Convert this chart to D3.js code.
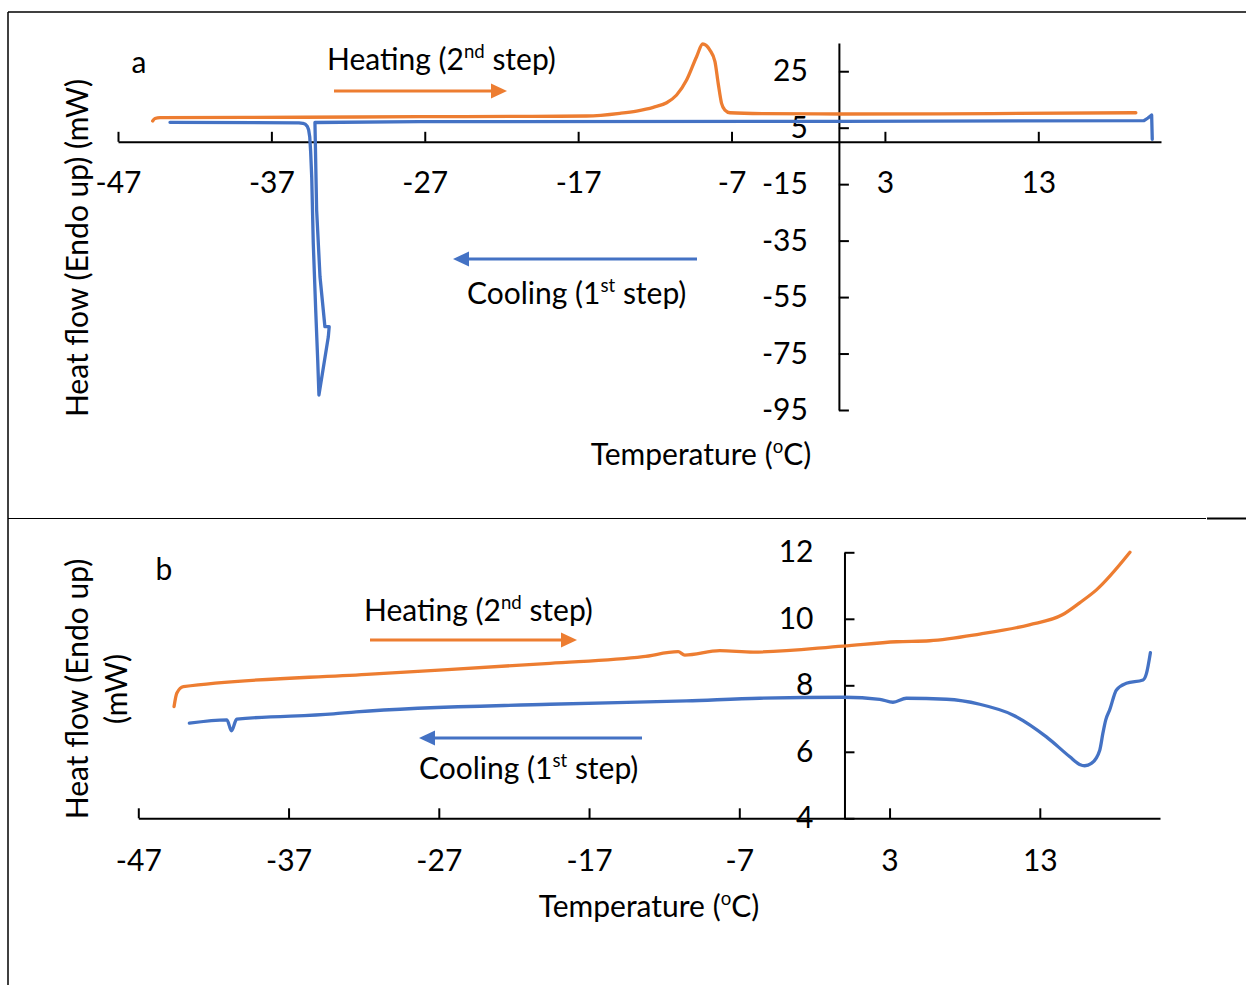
<!DOCTYPE html>
<html>
<head>
<meta charset="utf-8">
<script src="https://cdn.jsdelivr.net/npm/d3@7"></script>
<style>
  body { margin: 0; background: #fff; }
  text { font-family: Lato, "Open Sans", sans-serif; fill: #000; }
</style>
</head>
<body>
<script>
// temperatures (degC) and heat flow (mW)
const xTicks = [-47, -37, -27, -17, -7, 3, 13]
const yTicksA = [-95, -75, -55, -35, -15, 5, 25]
const yTicksB = [4, 6, 8, 10, 12]

// panel a, heating (2nd step)
const heatA_T = [-44.74, -44.59, -44.26, -35, -27.31, -20, -16.45, -14.28, -13.19, -12.10, -11.23, -10.58, -9.93, -9.28, -8.88, -8.41, -8.08, -7.87, -7.65, -7.43, -7.1, -5, 0.07, 10, 19.36]
const heatA_mW = [7.37, 8.25, 8.54, 8.7, 8.89, 9.0, 9.14, 10.1, 10.91, 12.22, 13.85, 16.58, 21.89, 30.15, 34.64, 32.5, 28.4, 20.7, 13.6, 11.26, 10.3, 10.0, 9.85, 10.0, 10.3]

// panel a, cooling (1st step), in recording order
const coolA_T = [20.43, 20.39, 20.15, 19.89, 0.07, -27.31, -34.16, -34.05, -33.83, -33.51, -33.23, -33.29, -33.90, -33.98, -34.11, -34.27, -34.37, -34.44, -34.5, -34.57, -34.66, -34.78, -34.95, -35.2, -43.61]
const coolA_mW = [0.89, 9.49, 8.43, 7.47, 7.26, 7.12, 6.84, -24.16, -47.79, -65.5, -65.5, -69.15, -89.7, -77.3, -59.6, -35.8, -12.5, -3.5, 1.8, 4.2, 5.5, 6.2, 6.55, 6.7, 6.91]

// panel b, heating (2nd step)
const heatB_T = [-44.62, -44.44, -44.0, -31.8, -19.6, -13.4, -11.07, -10.63, -8.3, -6.08, -0.09, 3.46, 5.67, 9.0, 12.3, 14.5, 15.65, 16.77, 19.0]
const heatB_mW = [7.36, 7.76, 7.96, 8.33, 8.66, 8.86, 9.01, 8.91, 9.04, 9.0, 9.18, 9.31, 9.34, 9.54, 9.82, 10.12, 10.48, 10.87, 12.0]

// panel b, cooling (1st step)
const coolB_T = [-43.6, -41.1, -40.8, -40.45, -34.0, -32.5, -19.6, -10.51, -5.64, 0, 2.35, 3.23, 4.12, 6.8, 9.0, 11.2, 13.44, 15.0, 15.65, 15.99, 16.43, 16.99, 17.2, 17.39, 17.65, 18.1, 18.76, 19.87, 20.1, 20.36]
const coolB_mW = [6.86, 6.96, 6.63, 6.98, 7.14, 7.2, 7.43, 7.53, 7.61, 7.64, 7.58, 7.49, 7.61, 7.58, 7.43, 7.11, 6.45, 5.85, 5.62, 5.58, 5.65, 6.05, 6.56, 6.96, 7.26, 7.86, 8.06, 8.16, 8.36, 8.98]

const orange = "#ED7D31"
const blue = "#4472C4"
const fs = 30
const lw = 3.3

const svg = d3.select("body").append("svg")
    .attr("width", 1246)
    .attr("height", 985)

// frame
svg.append("line").attr("x1", 8).attr("x2", 1246).attr("y1", 12).attr("y2", 12)
    .attr("stroke", "#000").attr("stroke-width", 1.5)
svg.append("line").attr("x1", 8).attr("x2", 8).attr("y1", 12).attr("y2", 985)
    .attr("stroke", "#000").attr("stroke-width", 1.5)
svg.append("line").attr("x1", 8).attr("x2", 1206).attr("y1", 518.5).attr("y2", 518.5)
    .attr("stroke", "#000").attr("stroke-width", 1)
svg.append("line").attr("x1", 1207).attr("x2", 1246).attr("y1", 518.5).attr("y2", 518.5)
    .attr("stroke", "#000").attr("stroke-width", 1.8)

const zip = (xs, ys) => xs.map((x, i) => [x, ys[i]])
const plain = (d) => String(d)

function styleAxis(g) {
    g.select(".domain").attr("stroke", "#000").attr("stroke-width", 2)
    g.selectAll(".tick line").attr("stroke", "#000").attr("stroke-width", 2)
    g.selectAll(".tick text")
        .attr("font-family", "Lato, 'Open Sans', sans-serif")
        .attr("font-size", fs)
        .attr("fill", "#000")
}

function arrow(x1, x2, y, color) {
    const dir = Math.sign(x2 - x1)
    svg.append("line")
        .attr("x1", x1).attr("x2", x2 - dir * 12)
        .attr("y1", y).attr("y2", y)
        .attr("stroke", color).attr("stroke-width", 3)
    svg.append("path")
        .attr("d", `M${x2},${y} L${x2 - dir * 16},${y - 7.5} L${x2 - dir * 16},${y + 7.5} Z`)
        .attr("fill", color)
}

function label(x, y, main, sup, rest, anchor) {
    const t = svg.append("text")
        .attr("x", x).attr("y", y)
        .attr("font-size", fs)
        .attr("text-anchor", anchor || "start")
    t.append("tspan").text(main)
    if (sup) {
        t.append("tspan").attr("font-size", fs * 0.62).attr("dy", -12).text(sup)
        t.append("tspan").attr("dy", 12).text(rest)
    }
    return t
}

function trace(data, x, y, color, curve) {
    svg.append("path")
        .datum(data)
        .attr("fill", "none").attr("stroke", color).attr("stroke-width", lw)
        .attr("stroke-linecap", "round").attr("stroke-linejoin", "round")
        .attr("d", d3.line().x((d) => x(d[0])).y((d) => y(d[1])).curve(curve))
}

// ---------- panel a ----------
const xa = d3.scaleLinear().domain([-47, 21]).range([118, 1161])
const ya = d3.scaleLinear().domain([-95, 35]).range([410, 43])

svg.append("g")
    .attr("transform", `translate(0,${ya(0)})`)
    .call(d3.axisBottom(xa).tickValues(xTicks).tickFormat(plain)
        .tickSizeInner(-10).tickSizeOuter(0).tickPadding(30))
    .call(styleAxis)

svg.append("g")
    .attr("transform", `translate(${xa(0)},0)`)
    .call(d3.axisLeft(ya).tickValues(yTicksA).tickFormat(plain)
        .tickSizeInner(-10).tickSizeOuter(0).tickPadding(31))
    .call(styleAxis)

trace(zip(heatA_T, heatA_mW), xa, ya, orange, d3.curveMonotoneX)
trace(zip(coolA_T, coolA_mW), xa, ya, blue, d3.curveLinear)

label(139, 73, "a", null, null, "middle")
label(327, 70, "Heating (2", "nd", " step)")
arrow(334, 507, 91, orange)
arrow(697, 453, 259, blue)
label(467, 304, "Cooling (1", "st", " step)")
label(701, 465, "Temperature (", "o", "C)", "middle")
svg.append("text")
    .attr("transform", "translate(88,248) rotate(-90)")
    .attr("text-anchor", "middle")
    .attr("font-size", fs)
    .text("Heat flow (Endo up) (mW)")

// ---------- panel b ----------
const xb = d3.scaleLinear().domain([-47, 21]).range([138.3, 1160])
const yb = d3.scaleLinear().domain([4, 12]).range([818.3, 552.3])

svg.append("g")
    .attr("transform", `translate(0,${yb(4)})`)
    .call(d3.axisBottom(xb).tickValues(xTicks).tickFormat(plain)
        .tickSizeInner(-10).tickSizeOuter(0).tickPadding(31))
    .call(styleAxis)

svg.append("g")
    .attr("transform", `translate(${xb(0)},0)`)
    .call(d3.axisLeft(yb).tickValues(yTicksB).tickFormat(plain)
        .tickSizeInner(-10).tickSizeOuter(0).tickPadding(31))
    .call(styleAxis)

trace(zip(heatB_T, heatB_mW), xb, yb, orange, d3.curveMonotoneX)
trace(zip(coolB_T, coolB_mW), xb, yb, blue, d3.curveMonotoneX)

label(164, 580, "b", null, null, "middle")
label(364, 621, "Heating (2", "nd", " step)")
arrow(370, 577, 640, orange)
arrow(642, 419, 738, blue)
label(419, 779, "Cooling (1", "st", " step)")
label(649, 917, "Temperature (", "o", "C)", "middle")
svg.append("text")
    .attr("transform", "translate(88,689) rotate(-90)")
    .attr("text-anchor", "middle")
    .attr("font-size", fs)
    .text("Heat flow (Endo up)")
svg.append("text")
    .attr("transform", "translate(127,689) rotate(-90)")
    .attr("text-anchor", "middle")
    .attr("font-size", fs)
    .text("(mW)")
</script>
</body>
</html>
